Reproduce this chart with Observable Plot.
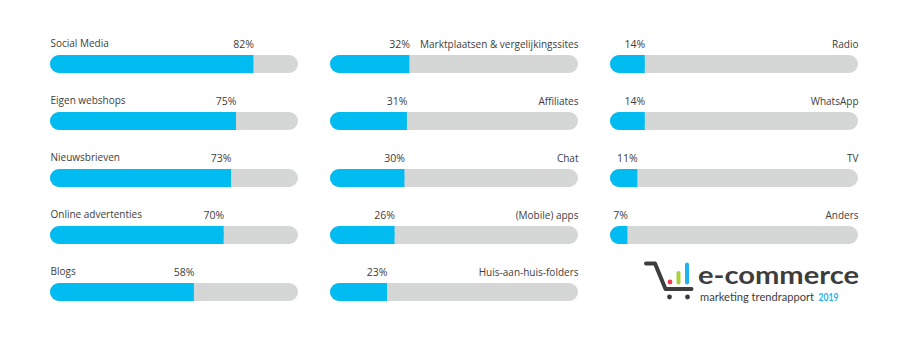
<!DOCTYPE html>
<html><head><meta charset="utf-8">
<script src="https://cdn.jsdelivr.net/npm/d3@7"></script>
<script src="https://cdn.jsdelivr.net/npm/@observablehq/plot@0.6"></script>
<style>
html,body{margin:0;padding:0;background:#fff;}
#wrap{position:relative;width:901px;height:345px;overflow:hidden;}
#logo{position:absolute;left:0;top:0;pointer-events:none;}
</style></head><body><div id="wrap"></div>
<script>
// Column 1 (label left-aligned)
const labelsCol1 = ["Social Media","Eigen webshops","Nieuwsbrieven","Online advertenties","Blogs"];
const valuesCol1 = [82, 75, 73, 70, 58];
// Column 2 (label right-aligned)
const labelsCol2 = ["Marktplaatsen & vergelijkingssites","Affiliates","Chat","(Mobile) apps","Huis-aan-huis-folders"];
const valuesCol2 = [32, 31, 30, 26, 23];
// Column 3 (label right-aligned)
const labelsCol3 = ["Radio","WhatsApp","TV","Anders"];
const valuesCol3 = [14, 14, 11, 7];

const columns = [0, 1, 2];
const rows = [0, 1, 2, 3, 4];
const logoTitle = "e-commerce";
const logoSub = "marketing trendrapport";
const logoYear = "2019";

const data = [];
[[labelsCol1, valuesCol1], [labelsCol2, valuesCol2], [labelsCol3, valuesCol3]].forEach(([ls, vs], c) => {
  ls.forEach((l, r) => data.push({col: c, row: r, label: l, value: vs[r]}));
});

const CYAN = "#00bcf1", TRACK = "#d4d7d6", INK = "#3d3d3d";
const FONT = "'Open Sans', sans-serif";

const chart = Plot.plot({
  width: 901, height: 345,
  marginLeft: 50, marginRight: 43, marginTop: 55, marginBottom: 44,
  facet: {marginTop: 0, marginRight: 0, marginBottom: 0, marginLeft: 0},
  fx: {domain: columns, paddingInner: 32/280, paddingOuter: 0, axis: null},
  x: {domain: [0, 100], axis: null},
  y: {type: "band", domain: rows, paddingInner: 39/57, paddingOuter: 0, axis: null},
  style: {fontFamily: FONT, background: "transparent"},
  marks: [
    Plot.barX(data, {fx: "col", y: "row", x1: 0, x2: 100, fill: TRACK, rx: 9}),
    Plot.barX(data, {fx: "col", y: "row", x1: 0, x2: "value", fill: CYAN, rx: 9}),
    Plot.barX(data, {fx: "col", y: "row", x1: d => d.value / 2, x2: "value", fill: CYAN}),
    Plot.text(data.filter(d => d.col === 0), {fx: "col", y: "row", x: 0, text: "label", textAnchor: "start", lineAnchor: "bottom", dy: -17.5, fontSize: 10, fill: INK}),
    Plot.text(data.filter(d => d.col !== 0), {fx: "col", y: "row", x: 100, text: "label", textAnchor: "end", lineAnchor: "bottom", dy: -17, fontSize: 10, fill: INK}),
    Plot.text(data, {fx: "col", y: "row", x: "value", text: d => d.value + "%", textAnchor: "end", lineAnchor: "bottom", dy: -17, fontSize: 10.5, fill: INK})
  ]
});
const wrap = document.getElementById("wrap");
wrap.appendChild(chart);

// Logo overlay (decoration)
const logo = d3.create("svg").attr("id", "logo").attr("width", 901).attr("height", 345);
const g = logo.append("g");
g.append("path").attr("d", "M646,263.5 L655,263.5 L665.5,289 L691.5,289")
  .attr("fill", "none").attr("stroke", INK).attr("stroke-width", 4)
  .attr("stroke-linecap", "round").attr("stroke-linejoin", "round");
g.append("circle").attr("cx", 669.5).attr("cy", 297).attr("r", 2.4).attr("fill", INK);
g.append("circle").attr("cx", 687.5).attr("cy", 297).attr("r", 2.4).attr("fill", INK);
g.append("circle").attr("cx", 670).attr("cy", 282).attr("r", 2.4).attr("fill", "#ee3a4f");
g.append("line").attr("x1", 678.5).attr("x2", 678.5).attr("y1", 273).attr("y2", 282.5)
  .attr("stroke", "#a9d13a").attr("stroke-width", 4).attr("stroke-linecap", "round");
g.append("line").attr("x1", 687).attr("x2", 687).attr("y1", 264.5).attr("y2", 282.5)
  .attr("stroke", "#1db4ee").attr("stroke-width", 4).attr("stroke-linecap", "round");
g.append("text").attr("x", 698).attr("y", 284).attr("font-family", "Lato, sans-serif")
  .attr("font-weight", 700).attr("font-size", 25).attr("fill", INK)
  .attr("textLength", 161).attr("lengthAdjust", "spacingAndGlyphs").text(logoTitle);
g.append("text").attr("x", 700).attr("y", 301).attr("font-family", "Lato, sans-serif")
  .attr("font-size", 11).attr("fill", INK).attr("textLength", 114).attr("lengthAdjust", "spacingAndGlyphs")
  .text(logoSub);
g.append("text").attr("x", 818.5).attr("y", 301).attr("font-family", "Lato, sans-serif")
  .attr("font-size", 11).attr("font-weight", 700).attr("fill", "#1db4ee").attr("textLength", 20)
  .attr("lengthAdjust", "spacingAndGlyphs").text(logoYear);
wrap.appendChild(logo.node());
</script>
</body></html>
